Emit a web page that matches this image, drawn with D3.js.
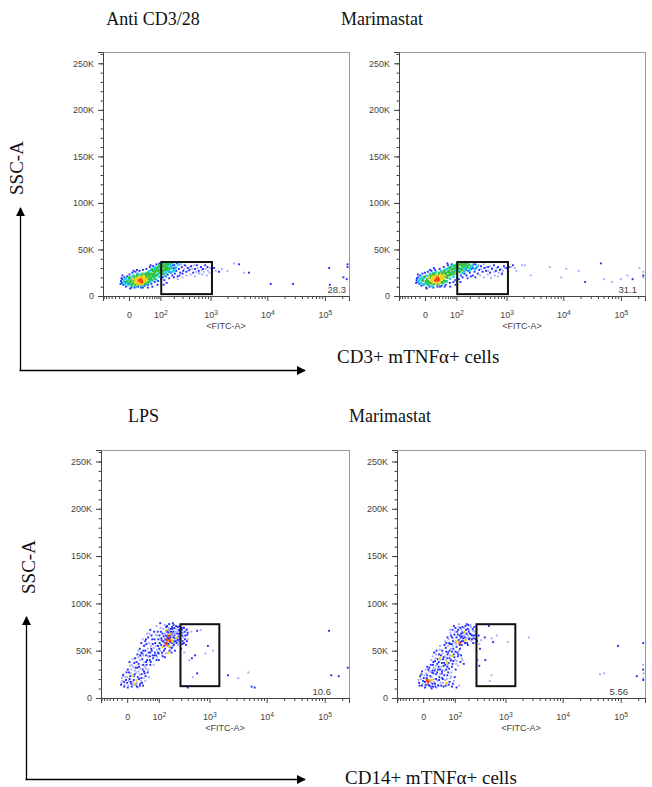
<!DOCTYPE html>
<html>
<head>
<meta charset="utf-8">
<script src="https://cdn.jsdelivr.net/npm/d3@7"></script>
<style>
    body { margin: 0; background: #fff; }
    svg text { font-family: "Liberation Sans", Arial, sans-serif; }
    .serif { font-family: "Liberation Serif", "Times New Roman", serif !important; }
</style>
</head>
<body>
<div id="figure"></div>
<script>

// Axis values (FITC-A is biexponential, SSC-A linear up to 2^18)
const sscTicks = [0, 50000, 100000, 150000, 200000, 250000];
const sscMinor = d3.range(0, 262144, 10000);
const fitcTicks = [0, 100, 1000, 10000, 100000];
const fitcMinor = [-70, -60, -50, -40, -30, -20, -10, 10, 20, 30, 40, 50, 60, 70, 80, 90,
    200, 300, 400, 500, 600, 700, 800, 900,
    2000, 3000, 4000, 5000, 6000, 7000, 8000, 9000,
    20000, 30000, 40000, 50000, 60000, 70000, 80000, 90000, 200000];

const panelTitles = ["Anti CD3/28", "Marimastat", "LPS", "Marimastat"];
const gateValues = ["28.3", "31.1", "10.6", "5.56"];

// Gates: [fitc min, fitc max, ssc min, ssc max]
const gateTcells = [105, 1060, 2000, 36500];
const gateMonocytes = [290, 1500, 12500, 78000];

// Events: [FITC-A, SSC-A in K, density level 0..5]
const antiCD3Events = [
    [18,16,4],[22,17,5],[26,15,5],[24,18,5],[30,16,4],[20,14,4],[28,19,4],[33,17,4],[15,18,4],[36,16,4],[26,13,4],[31,20,4],[40,18,4],[12,15,4],
    [6,14,3],[9,18,3],[11,12,3],[14,21,3],[17,13,3],[19,20,3],[23,12,3],[27,22,3],[34,14,3],[38,21,3],[42,16,3],[46,19,3],[50,22,3],[55,18,3],
    [60,24,3],[66,21,3],[73,26,3],[80,23,3],[88,27,3],[96,25,3],[104,29,3],[112,32,3],[120,28,3],[130,34,3],[140,31,3],[150,35,3],[116,24,3],
    [160,30,3],[8,16,3],[44,24,3],[70,19,3],[100,33,3],[125,31,3],
    [-4,15,2],[-1,18,2],[2,13,2],[3,20,2],[5,11,2],[7,22,2],[13,10,2],[16,24,2],[21,23,2],[29,11,2],[35,24,2],[41,13,2],[48,26,2],[53,15,2],
    [58,28,2],[63,17,2],[70,29,2],[78,18,2],[85,31,2],[92,21,2],[98,30,2],[108,26,2],[135,27,2],[145,33,2],[155,29,2],[170,32,2],[185,35,2],
    [200,28,2],[220,31,2],[245,34,2],[175,26,2],[128,22,2],[110,36,2],
    [-15,16,1],[-13,14,1],[-12,18,1],[-10,12,1],[-8,20,1],[-6,15,1],[-5,10,1],[-3,21,1],[-1,13,1],[1,23,1],[4,9,1],[6,25,1],[10,9,1],[12,26,1],
    [18,10,1],[21,27,1],[25,9,1],[30,28,1],[35,11,1],[40,29,1],[46,12,1],[52,31,1],[58,13,1],[65,32,1],[72,15,1],[80,34,1],[88,16,1],[95,35,1],
    [105,18,1],[115,20,1],[125,17,1],[135,21,1],[148,23,1],[160,19,1],[172,25,1],[185,22,1],[195,30,1],[210,24,1],[225,27,1],[240,21,1],
    [255,29,1],[270,25,1],[290,31,1],[310,27,1],[330,33,1],[355,26,1],[380,30,1],[410,28,1],[440,32,1],[480,25,1],[520,29,1],[560,33,1],
    [610,27,1],[670,31,1],[730,29,1],[800,33,1],[880,31,1],[1160,30,1],[1420,26,1],[160,26,1],[140,14,1],[120,12,1],[200,20,1],[260,22,1],
    [300,24,1],[190,33,1],[175,36,1],[150,28,1],[230,35,1],[62,10,1],[85,12,1],
    [-14,19,1],[-11,15,2],[-9,17,2],[-7,13,2],[-6,19,2],[-3,16,3],[-2,12,2],[0,20,3],[1,15,3],[3,17,3],[4,12,3],[6,19,4],[7,14,3],[9,21,3],
    [10,15,4],[11,17,4],[13,19,4],[14,14,4],[15,23,3],[16,16,4],[17,20,4],[19,17,5],[21,13,4],[22,21,4],[23,19,4],[25,16,5],[27,18,4],
    [28,24,3],[29,14,4],[31,22,4],[32,18,4],[34,20,4],[35,13,3],[37,23,3],[39,17,4],[41,25,3],[43,19,3],[45,15,3],[47,22,3],[49,27,2],
    [51,18,3],[54,24,3],[57,20,3],[59,29,3],[62,22,3],[64,27,3],[68,24,3],[71,31,2],[75,22,3],[77,28,3],[82,30,3],[86,24,2],[90,33,3],
    [94,28,3],[102,31,3],[107,35,2],[113,27,3],[118,33,3],[122,36,2],[127,29,3],[132,25,2],[138,35,3],[143,29,3],[148,33,2],[153,27,2],
    [165,34,2],[180,30,2],[195,27,2],[205,33,1],[215,30,1],[-12,22,1],[-16,13,1],[2,8,1],[8,27,1],[15,28,1],[30,9,1],[45,9,1],[55,33,1],
    [280,34,0],[320,29,0],[350,32,0],[390,27,0],[420,31,0],[460,29,0],[500,33,0],[540,26,0],[580,30,0],[630,24,0],[690,28,0],[750,26,0],
    [820,29,0],[900,27,0],[980,30,0],[1060,28,0],[1240,27,0],[1600,29,0],[2000,27,0],[2620,35,0],[3940,25,0],[240,18,0],[300,20,0],
    [360,22,0],[430,23,0],[520,21,0],[600,25,0],[710,23,0],[860,22,0],[960,25,0],
    [3200,34,1],[4800,25,1],[11500,13,1],[28000,13,1],[119000,30,1],[122000,12,1],[210000,20,1],[240000,18,1],[248000,34,1],[248000,31,1]
];

const marimastatTEvents = [
    [20,17,5],[24,19,5],[28,18,5],[17,19,4],[32,18,4],[22,15,4],[26,21,4],[36,20,4],[14,17,4],[40,19,4],[30,14,4],[45,22,4],
    [5,16,3],[8,20,3],[10,14,3],[13,22,3],[16,13,3],[19,23,3],[24,13,3],[29,23,3],[34,15,3],[38,24,3],[44,17,3],[50,25,3],[56,20,3],
    [62,27,3],[70,23,3],[78,29,3],[86,26,3],[95,31,3],[105,33,3],[115,30,3],[125,34,3],[135,32,3],[145,35,3],[160,33,3],[175,31,3],
    [190,34,3],[120,26,3],[100,24,3],
    [-5,17,2],[-2,20,2],[1,14,2],[3,22,2],[6,12,2],[9,24,2],[12,11,2],[16,25,2],[22,26,2],[28,12,2],[35,27,2],[42,14,2],[48,28,2],
    [55,16,2],[60,30,2],[68,19,2],[75,32,2],[84,21,2],[92,28,2],[110,27,2],[130,29,2],[150,31,2],[170,36,2],[200,30,2],[225,33,2],
    [250,29,2],[280,32,2],[140,25,2],
    [-16,17,1],[-14,15,1],[-12,20,1],[-10,13,1],[-8,22,1],[-6,11,1],[-4,24,1],[-2,12,1],[0,25,1],[2,9,1],[5,26,1],[8,10,1],[12,27,1],
    [16,9,1],[20,28,1],[26,10,1],[32,29,1],[38,11,1],[45,31,1],[52,12,1],[60,33,1],[68,14,1],[76,34,1],[85,15,1],[95,17,1],[105,20,1],
    [115,18,1],[128,22,1],[140,20,1],[155,24,1],[170,22,1],[185,27,1],[200,25,1],[215,29,1],[230,22,1],[250,26,1],[270,30,1],[290,24,1],
    [310,28,1],[335,32,1],[360,26,1],[390,30,1],[420,27,1],[460,31,1],[500,25,1],[540,29,1],[590,33,1],[640,27,1],[700,31,1],[760,28,1],
    [830,24,1],[900,32,1],[1000,30,1],[1100,31,1],[1300,33,1],[165,28,1],[180,19,1],[210,21,1],[240,34,1],[70,10,1],[95,12,1],[125,15,1],
    [260,20,1],
    [-15,19,1],[-12,16,2],[-10,18,2],[-8,14,2],[-6,20,2],[-4,17,3],[-3,13,2],[-1,21,3],[1,16,3],[3,18,3],[4,13,3],[6,21,4],[7,15,3],[9,22,3],
    [10,17,4],[12,19,4],[13,21,4],[14,15,4],[15,24,3],[17,17,4],[18,21,4],[20,19,4],[22,14,4],[23,23,4],[25,20,5],[26,17,5],[29,20,4],
    [30,25,3],[31,16,4],[33,23,4],[34,19,4],[37,22,4],[38,15,3],[40,25,3],[42,19,4],[44,27,3],[47,21,3],[49,16,3],[51,24,3],[53,29,2],
    [57,22,3],[60,26,3],[64,23,3],[66,31,3],[69,25,3],[72,29,3],[76,26,3],[80,33,2],[83,24,3],[88,30,3],[92,33,3],[97,27,2],[102,35,3],
    [108,31,3],[118,34,3],[124,29,3],[128,36,2],[134,28,3],[140,34,3],[146,30,2],[152,27,2],[158,35,3],[165,30,2],[180,33,2],[195,28,2],
    [212,32,2],[230,30,1],[260,34,1],[-13,23,1],[-17,14,1],[3,8,1],[9,28,1],[17,30,1],[33,10,1],[48,10,1],[58,35,1],
    [300,33,0],[340,29,0],[380,34,0],[420,31,0],[460,27,0],[500,32,0],[550,30,0],[600,26,0],[660,30,0],[720,25,0],[790,29,0],[860,27,0],
    [940,30,0],[1050,28,0],[1200,31,0],[1500,27,0],[1900,33,0],[320,22,0],[380,20,0],[450,23,0],[520,19,0],[610,22,0],[700,21,0],[820,23,0],
    [1150,31,0],[1400,30,0],[2140,33,0],[2700,22,0],[5800,31,0],[9200,20,0],[11300,29,0],[18500,27,0],[24000,15,1],[45000,35,1],
    [51000,18,0],[70000,15,0],[100000,18,0],[130000,22,0],[160000,18,1],[210000,30,0],[245000,26,0],[245000,22,1],[245000,20,0]
];

const lpsEvents = [
    [-11,14,1],[-8,18,0],[-5,12,1],[-3,22,0],[0,16,1],[2,13,0],[4,20,1],[6,26,0],[8,12,1],[10,17,0],[12,23,1],[14,29,0],[16,14,1],[18,19,4],
    [20,32,1],[22,11,0],[25,25,0],[27,15,1],[30,21,1],[33,35,0],[35,13,1],[38,28,1],[42,18,0],[45,38,1],[-6,25,0],[1,30,1],[5,34,0],
    [9,24,4],[13,37,1],[17,27,0],[24,20,1],[28,31,0],[32,16,1],[7,15,1],[3,27,1],[11,33,0],[19,12,1],[23,36,1],[26,40,0],[15,42,1],
    [40,33,0],[50,27,1],[48,40,1],[55,22,0],[60,35,1],[36,45,0],[20,46,1],[30,48,1],[-2,19,1],[-9,21,0],
    [-10,16,0],[-7,24,1],[-4,14,0],[-1,27,1],[1,11,1],[3,18,0],[5,23,1],[7,30,0],[10,14,0],[12,19,1],[14,25,1],[16,32,1],[18,16,0],
    [21,22,1],[23,28,0],[26,13,1],[29,18,0],[31,25,1],[34,30,1],[37,21,0],[40,26,1],[44,31,0],[46,35,1],[52,30,0],[58,40,1],[8,35,0],
    [4,38,1],[10,41,0],[18,38,1],[22,43,0],[27,45,1],[33,41,1],[39,38,0],[0,22,0],[-5,17,1],[6,17,1],[13,15,4],[24,33,1],[36,35,1],[43,23,1],
    [42,50,1],[52,44,0],[64,52,1],[72,42,1],[85,55,0],[95,48,1],[105,58,1],[118,46,0],[129,60,1],[140,52,1],[151,65,0],[165,57,1],
    [176,62,1],[190,70,1],[205,55,0],[220,66,1],[236,73,0],[255,61,1],[272,68,1],[290,58,0],[310,74,1],[330,64,0],[352,70,1],[380,72,1],
    [400,62,0],[56,58,0],[68,62,1],[80,48,1],[90,66,0],[100,40,1],[112,70,1],[124,44,1],[136,68,0],[148,75,1],[160,48,4],[172,78,1],
    [184,52,0],[198,60,4],[212,77,1],[226,50,1],[240,64,4],[262,56,0],[280,76,1],[300,52,1],[320,60,1],[345,48,0],[370,56,1],[42,60,1],
    [48,68,0],[60,72,1],[76,70,1],[88,76,0],[98,62,1],[108,79,1],[120,54,4],[132,50,1],[144,57,5],[150,62,5],[156,60,1],[162,66,5],
    [168,55,4],[174,50,1],[182,64,1],[186,59,1],[194,69,0],[202,73,1],[215,60,1],[230,70,0],[245,58,1],[268,72,1],[285,65,0],[305,69,1],
    [335,75,0],[360,66,1],[390,73,0],[38,55,1],[34,62,0],[30,58,1],[26,52,1],[22,50,0],[62,38,1],[74,35,0],[78,45,1],[92,43,0],[103,52,1],
    [115,63,1],[127,73,0],[138,43,1],[146,47,0],[158,71,1],[166,74,0],[178,68,4],[192,48,1],[208,64,1],[222,58,0],[250,68,1],[275,62,1],
    [295,71,0],[315,66,1],[340,58,1],
    [45,45,1],[50,52,0],[54,48,1],[58,44,1],[62,55,0],[66,50,1],[70,57,1],[75,53,0],[82,58,1],[86,45,1],[90,51,0],[96,55,1],[100,47,1],
    [108,50,0],[114,56,1],[120,48,1],[125,59,0],[133,55,1],[36,50,1],[40,56,0],[44,62,1],[52,64,1],[57,68,0],[65,66,1],[70,45,1],[78,62,1],
    [84,67,0],[94,70,1],[104,66,1],[110,74,0],[117,61,1],[122,68,1],[130,65,1],[137,77,0],[142,62,1],[46,57,1],[33,47,1],[28,44,0],
    [60,48,1],[88,40,1],
    [140,58,1],[145,66,1],[152,70,1],[155,55,0],[158,64,1],[162,60,4],[165,69,1],[170,63,1],[172,72,0],[178,59,1],[180,66,1],[185,73,1],
    [188,62,4],[192,67,1],[196,75,1],[200,58,1],[204,68,0],[210,70,1],[214,56,1],[218,74,1],[224,63,1],[228,68,0],[234,60,1],[238,76,1],
    [244,70,0],[250,63,1],[258,75,1],[265,65,1],[270,59,0],[278,71,1],[288,68,1],[298,62,0],[308,72,1],[318,57,1],[328,69,0],[340,74,1],
    [355,62,1],[372,66,0],[385,60,1],[395,67,1],[146,72,4],[154,76,1],[168,78,0],[176,54,1],[196,53,1],[206,79,1],[150,58,5],[160,62,1],
    [175,61,5],[182,70,1],
    [400,69,1],[470,70,0],[600,71,1],[700,72,0],[940,55,1],[1160,50,0],[430,40,0],[480,42,1],[550,45,1],[600,26,1],[500,22,0],[400,11,1],
    [850,47,0],[2140,24,1],[3220,21,0],[4820,27,0],[5500,12,1],[6200,11,1],[119000,71,1],[130000,24,1],[175000,23,1],[250000,32,1]
];

const marimastatMEvents = [
    [-7,16,1],[-4,20,0],[-2,13,1],[0,18,1],[2,24,0],[4,14,1],[6,21,1],[8,17,5],[10,19,4],[11,13,1],[13,23,1],[15,16,0],[17,27,1],[19,12,1],
    [21,20,0],[24,15,1],[27,25,1],[30,18,0],[33,13,1],[36,22,1],[40,16,0],[45,28,1],[50,12,1],[56,19,0],[64,24,1],[70,14,1],[77,21,0],
    [5,26,0],[9,30,1],[-5,23,1],[3,11,1],[12,28,0],[16,10,1],[23,29,1],[28,11,0],[38,30,1],[47,20,1],[60,16,4],[85,12,1],[95,18,0],
    [110,11,1],[125,13,0],[60,30,1],[20,32,0],[7,33,1],[14,35,1],[26,34,0],
    [-8,19,0],[-6,13,1],[-3,25,1],[-1,15,0],[1,21,1],[3,17,1],[5,13,0],[7,24,1],[9,14,1],[10,28,0],[12,18,1],[14,12,1],[16,22,0],[18,15,1],
    [20,26,1],[22,17,0],[25,12,1],[27,20,1],[30,27,1],[32,14,0],[35,19,1],[38,25,0],[42,13,1],[45,21,1],[48,16,0],[52,24,1],[58,13,1],
    [62,20,0],[68,27,1],[74,17,1],[80,23,0],[90,15,1],[100,22,1],[4,30,0],[11,32,1],[18,29,1],[25,31,0],[34,33,1],[44,26,1],[55,29,0],
    [-2,28,1],[6,19,5],[15,19,4],
    [20,38,1],[25,42,0],[30,36,1],[35,46,1],[40,40,0],[45,50,1],[50,34,1],[55,44,0],[62,38,4],[68,48,1],[74,42,1],[80,52,0],[88,36,1],
    [95,46,1],[102,40,0],[110,54,1],[118,44,1],[126,50,0],[135,38,1],[28,50,1],[38,55,0],[48,41,1],[58,53,1],[66,35,0],[76,57,1],[84,45,4],
    [92,39,1],[100,58,0],[115,48,1],[130,56,1],[18,44,0],[22,48,1],[32,30,1],[42,33,0],[52,37,1],[72,31,1],[82,27,0],[105,30,1],[120,34,0],
    [140,45,1],[150,40,0],[160,36,1],[65,46,1],[78,39,0],
    [15,40,0],[19,35,1],[24,39,1],[27,46,0],[31,41,1],[34,38,1],[37,51,0],[41,45,1],[44,37,1],[47,47,0],[50,43,1],[53,56,1],[57,40,0],
    [60,49,1],[64,42,1],[67,55,0],[70,37,1],[74,50,1],[77,45,0],[81,40,1],[86,49,1],[90,55,0],[98,43,1],[104,49,1],[112,39,0],[122,46,1],
    [132,52,1],[145,42,0],[36,42,4],[56,35,1],[85,33,1],[108,36,0],[64,33,1],[46,30,0],
    [60,58,1],[70,62,0],[80,66,1],[90,60,1],[100,70,0],[110,64,1],[120,72,1],[130,62,0],[140,68,1],[150,75,1],[160,66,0],[170,58,1],
    [180,72,1],[190,64,0],[200,77,1],[215,68,1],[230,60,0],[245,73,1],[260,66,1],[75,72,0],[95,76,1],[125,78,0],[145,60,1],[165,70,4],
    [185,78,1],[205,62,1],[225,75,0],[250,58,1],[270,70,0],[280,62,1],[85,64,1],[105,60,0],[135,74,1],[155,63,1],[175,67,0],[195,56,1],
    [210,72,0],[240,66,1],[118,67,1],[128,58,5],[138,64,1],[148,70,0],[300,60,1],[330,57,0],
    [55,60,0],[65,64,1],[72,58,1],[78,69,0],[84,57,1],[88,72,1],[92,63,0],[98,67,1],[104,74,1],[108,57,0],[114,70,1],[122,61,1],[126,75,0],
    [132,66,1],[136,59,1],[142,72,0],[146,65,1],[152,69,1],[158,60,1],[162,74,0],[168,64,1],[174,76,1],[178,62,0],[184,68,1],[188,58,1],
    [194,73,1],[198,66,0],[204,70,1],[212,63,1],[220,77,0],[228,67,1],[236,62,1],[248,71,0],[256,63,1],[265,75,1],[275,58,0],[285,67,1],
    [295,72,0],[112,60,4],[170,61,4],[144,56,1],[92,52,1],
    [320,66,1],[360,61,0],[420,64,1],[500,76,1],[560,63,0],[600,59,1],[700,66,0],[430,40,1],[560,24,0],[520,18,0],[340,52,1],[310,40,0],
    [330,34,1],[1100,59,0],[2600,64,0],[44000,25,0],[52000,26,0],[90000,55,1],[190000,23,1],[245000,58,1],[245000,35,0],[245000,30,1],
    [245000,21,0],[245000,19,1],[250000,26,0]
];

// Pseudocolor density levels, low to high
const densityColors = ["#a6a8ff", "#1f2dff", "#12cfee", "#2fc23a", "#f3d21c", "#ff3a12"];


class DotPlot {
    // constructor method to initialize one flow cytometry dot plot
    constructor(svg, box, events, gate, gateValue, valueOffset){
        this.svg = svg;
        this.box = box;
        this.events = events;
        this.gate = gate;
        this.gateValue = gateValue;
        this.valueOffset = valueOffset;
        this.initVis();
    }

    initVis(){
        let vis = this;

        vis.g = vis.svg.append("g");

        // Biexponential-like x scale and linear SSC scale
        vis.x = d3.scaleSymlog()
            .constant(40)
            .domain([-73, 262144])
            .range([vis.box.x0, vis.box.x1]);

        vis.y = d3.scaleLinear()
            .domain([0, 262144])
            .range([vis.box.y1, vis.box.y0]);

        // Plot frame
        vis.g.append("rect")
            .attr("x", vis.box.x0 + 0.5)
            .attr("y", vis.box.y0 + 0.5)
            .attr("width", vis.box.x1 - vis.box.x0)
            .attr("height", vis.box.y1 - vis.box.y0)
            .attr("fill", "#fff")
            .attr("stroke", "#9a9a9a");

        vis.updateVis();
    }

    updateVis(){
        let vis = this;

        // Events, drawn from low to high density so hot spots stay on top
        let sorted = vis.events.slice().sort((a, b) => a[2] - b[2]);
        vis.g.append("g").selectAll("rect")
            .data(sorted)
            .enter().append("rect")
            .attr("x", d => vis.x(d[0]) - 1)
            .attr("y", d => vis.y(d[1] * 1000) - 1)
            .attr("width", d => d[2] >= 2 ? 2.5 : 1.9)
            .attr("height", d => d[2] >= 2 ? 2.5 : 1.9)
            .attr("fill", d => densityColors[d[2]]);

        // Gate rectangle
        vis.g.append("rect")
            .attr("x", vis.x(vis.gate[0]))
            .attr("y", vis.y(vis.gate[3]))
            .attr("width", vis.x(vis.gate[1]) - vis.x(vis.gate[0]))
            .attr("height", vis.y(vis.gate[2]) - vis.y(vis.gate[3]))
            .attr("fill", "none")
            .attr("stroke", "#111")
            .attr("stroke-width", 2);

        // Gate frequency
        vis.g.append("text")
            .attr("x", vis.box.x1 - vis.valueOffset)
            .attr("y", vis.box.y1 - 3.5)
            .attr("text-anchor", "end")
            .attr("font-size", 9.5)
            .attr("fill", "#444")
            .text(vis.gateValue);

        // Y axis, major and minor ticks
        let yAxis = vis.g.append("g")
            .attr("transform", "translate(" + vis.box.x0 + ",0)")
            .call(d3.axisLeft(vis.y)
                .tickValues(sscTicks)
                .tickSize(5)
                .tickPadding(4)
                .tickFormat(d => d === 0 ? "0" : (d / 1000) + "K"));
        vis.g.append("g")
            .attr("transform", "translate(" + vis.box.x0 + ",0)")
            .call(d3.axisLeft(vis.y).tickValues(sscMinor).tickSize(2.5).tickFormat(""))
            .select(".domain").remove();

        // X axis, major and minor ticks
        let xAxis = vis.g.append("g")
            .attr("transform", "translate(0," + vis.box.y1 + ")")
            .call(d3.axisBottom(vis.x)
                .tickValues(fitcTicks)
                .tickSize(5)
                .tickPadding(11)
                .tickFormat(""));
        vis.g.append("g")
            .attr("transform", "translate(0," + vis.box.y1 + ")")
            .call(d3.axisBottom(vis.x).tickValues(fitcMinor).tickSize(3).tickFormat(""))
            .select(".domain").remove();

        // Powers of ten with superscripts
        xAxis.selectAll(".tick text").each(function(d) {
            let t = d3.select(this);
            if (d === 0) {
                t.text("0");
            } else {
                t.append("tspan").text("10");
                t.append("tspan")
                    .attr("dy", "-0.5em")
                    .attr("font-size", "0.75em")
                    .text(Math.round(Math.log10(d)));
            }
        });

        [yAxis, xAxis].forEach(function(a) {
            a.selectAll("text")
                .attr("font-family", "Liberation Sans, Arial, sans-serif")
                .attr("font-size", 9)
                .attr("fill", "#444");
        });
        vis.g.selectAll(".domain, .tick line").attr("stroke", "#444");

        vis.g.append("text")
            .attr("x", (vis.box.x0 + vis.box.x1) / 2)
            .attr("y", vis.box.y1 + 32.5)
            .attr("text-anchor", "middle")
            .attr("font-size", 9)
            .attr("fill", "#444")
            .text("<FITC-A>");
    }
}


// Drawing area
let svg = d3.select("#figure").append("svg")
    .attr("width", 652)
    .attr("height", 787);

let boxes = [
    {x0: 103, x1: 349, y0: 52, y1: 296},
    {x0: 399, x1: 645, y0: 52, y1: 296},
    {x0: 101, x1: 349, y0: 450, y1: 698},
    {x0: 397, x1: 645, y0: 450, y1: 698}
];

new DotPlot(svg, boxes[0], antiCD3Events, gateTcells, gateValues[0], 3);
new DotPlot(svg, boxes[1], marimastatTEvents, gateTcells, gateValues[1], 8);
new DotPlot(svg, boxes[2], lpsEvents, gateMonocytes, gateValues[2], 18);
new DotPlot(svg, boxes[3], marimastatMEvents, gateMonocytes, gateValues[3], 17);

// Panel titles
let titlePos = [[153, 25, "middle"], [382, 25, "middle"], [128, 422, "start"], [390, 422, "middle"]];
svg.selectAll(".panel-title")
    .data(panelTitles)
    .enter().append("text")
    .attr("class", "serif")
    .attr("x", (d, i) => titlePos[i][0])
    .attr("y", (d, i) => titlePos[i][1])
    .attr("text-anchor", (d, i) => titlePos[i][2])
    .attr("font-size", 18)
    .attr("fill", "#111")
    .text(d => d);

// Arrow head marker
svg.append("defs").append("marker")
    .attr("id", "arrow")
    .attr("viewBox", "0 0 10 10")
    .attr("refX", 9)
    .attr("refY", 5)
    .attr("markerWidth", 9)
    .attr("markerHeight", 9)
    .attr("markerUnits", "userSpaceOnUse")
    .attr("orient", "auto")
    .append("path")
    .attr("d", "M0,0L10,5L0,10Z")
    .attr("fill", "#000");

// Overall SSC / marker axes
let arrows = [
    {ox: 20.5, oy: 370.5, top: 208, right: 305, label: "CD3+ mTNFα+ cells", lx: 337, ly: 363, sy: 195, sx: 23},
    {ox: 26.5, oy: 779.5, top: 617, right: 305, label: "CD14+ mTNFα+ cells", lx: 345, ly: 784, sy: 594, sx: 35}
];

arrows.forEach(function(a) {
    svg.append("line")
        .attr("x1", a.ox).attr("y1", a.oy)
        .attr("x2", a.ox).attr("y2", a.top)
        .attr("stroke", "#000").attr("stroke-width", 1.3)
        .attr("marker-end", "url(#arrow)");
    svg.append("line")
        .attr("x1", a.ox - 1).attr("y1", a.oy)
        .attr("x2", a.right).attr("y2", a.oy)
        .attr("stroke", "#000").attr("stroke-width", 1.3)
        .attr("marker-end", "url(#arrow)");
    svg.append("text")
        .attr("class", "serif")
        .attr("x", a.lx)
        .attr("y", a.ly)
        .attr("font-size", 19)
        .attr("fill", "#111")
        .text(a.label);
    svg.append("text")
        .attr("class", "serif")
        .attr("transform", "translate(" + a.sx + "," + a.sy + ") rotate(-90)")
        .attr("font-size", 19)
        .attr("fill", "#111")
        .text("SSC-A");
});

</script>
</body>
</html>
